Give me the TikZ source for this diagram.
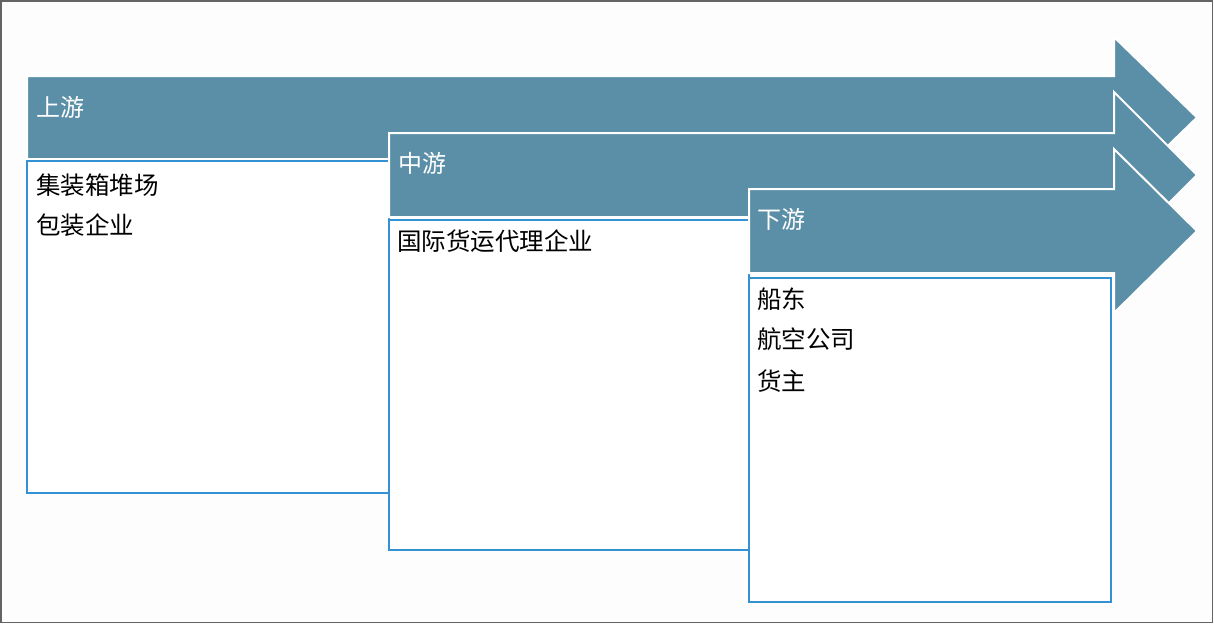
\documentclass[tikz,border=0pt]{standalone}
\usepackage{fontspec}
\newfontfamily\cjk{Noto Sans CJK SC}
\definecolor{bandblue}{RGB}{91,143,168}
\definecolor{boxblue}{RGB}{52,146,212}
\definecolor{framegray}{RGB}{100,100,100}
\definecolor{bgwhite}{RGB}{253,253,253}
\tikzset{
  band/.style={fill=bandblue, draw=white, line width=2pt, line join=miter},
  listbox/.style={fill=white, draw=boxblue, line width=1.5pt},
  bandlabel/.style={anchor=west, inner sep=0pt, text=white, font=\cjk\fontsize{24}{28}\selectfont},
  itemlabel/.style={anchor=west, inner sep=0pt, text=black, font=\cjk\fontsize{24.5}{28}\selectfont}
}
\begin{document}
\begin{tikzpicture}[x=1pt,y=-1pt]
\useasboundingbox (0,0) rectangle (1214,624);
\fill[bgwhite] (0,0) rectangle (1214,624);
\draw[framegray, line width=1.5pt] (0.75,0.75) rectangle (1212.5,622.5);
% upstream
\draw[band] (27,76) -- (1114,76) -- (1114,37) -- (1197,117.5) -- (1114,198) -- (1114,159) -- (27,159) -- cycle;
\draw[listbox] (27,161) rectangle (389,493);
\node[bandlabel] (up) at (36,107) {上游};
\node[itemlabel] (u1) at (36,185) {集装箱堆场};
\node[itemlabel] (u2) at (36,225) {包装企业};
% midstream
\draw[band] (389,133) -- (1114,133) -- (1114,92) -- (1197,175) -- (1114,258) -- (1114,217) -- (389,217) -- cycle;
\draw[listbox] (389,220) rectangle (749,550);
\node[bandlabel] (mid) at (398,163) {中游};
\node[itemlabel] (m1) at (397,241) {国际货运代理企业};
% downstream
\draw[band] (749,189) -- (1114,189) -- (1114,149) -- (1197,231) -- (1114,313) -- (1114,273) -- (749,273) -- cycle;
\draw[listbox] (749,278) rectangle (1111,602);
\node[bandlabel] (down) at (757,219) {下游};
\node[itemlabel] (d1) at (757,299) {船东};
\node[itemlabel] (d2) at (757,339) {航空公司};
\node[itemlabel] (d3) at (757,381) {货主};
\end{tikzpicture}
\end{document}
